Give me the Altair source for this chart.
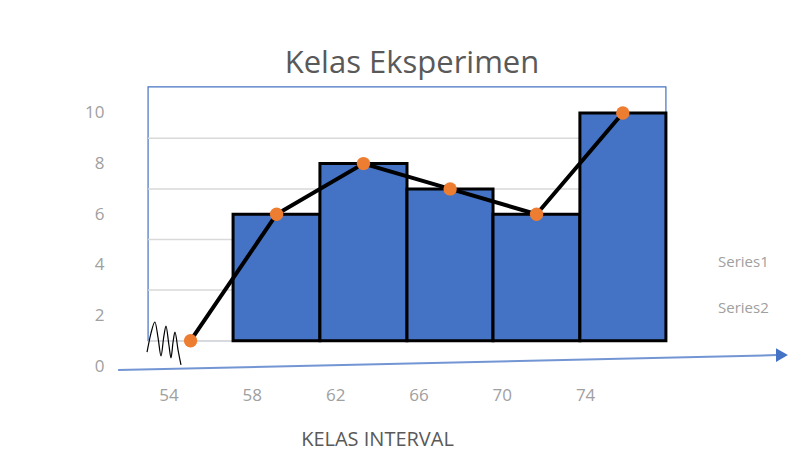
import altair as alt
import pandas as pd

# ---- data ----
series_names = ["Series1", "Series2"]
x_tick_labels = [54, 58, 62, 66, 70, 74]
y_tick_labels = [0, 2, 4, 6, 8, 10]
bar_start = [57.10, 61.27, 65.45, 69.58, 73.75]
bar_end = [61.27, 65.45, 69.58, 73.75, 77.88]
bar_values = [6, 8, 7, 6, 10]
bar_base = [1, 1, 1, 1, 1]
line_x = [55.06, 59.19, 63.36, 67.52, 71.67, 75.81]
line_values = [1, 6, 8, 7, 6, 10]
grid_values = [1, 3, 5, 7, 9]
frame_x = [53.02, 77.88]
frame_y = [1, 11.03]
arrow_x = [51.58, 83.2]
arrow_y = [-0.16, 0.43]
arrow_head = [83.45, 0.43]
squiggle_x = [52.97, 53.16, 53.35, 53.50, 53.64, 53.78, 53.88, 54.02, 54.12, 54.22, 54.31, 54.46, 54.60]
squiggle_y = [0.55, 1.30, 1.74, 1.11, 0.40, 1.19, 1.58, 0.83, 0.32, 0.95, 1.34, 0.63, 0.04]

BLUE = "#4472c4"
ORANGE = "#ed7d31"
FONT = "Open Sans"

X_DOMAIN = [51.576, 83.837]
Y_DOMAIN = [0, 11.067]

bars = pd.DataFrame({"x": bar_start, "x2": bar_end, "y": bar_values, "y2": bar_base,
                     "series": series_names[0]})
pts = pd.DataFrame({"x": line_x, "y": line_values, "series": series_names[1]})
grid = pd.DataFrame({"x": [frame_x[0]] * len(grid_values), "x2": [frame_x[1]] * len(grid_values),
                     "y": grid_values})
frame = pd.DataFrame({"x": [frame_x[0]], "x2": [frame_x[1]], "y": [frame_y[0]], "y2": [frame_y[1]]})
arrow = pd.DataFrame({"x": [arrow_x[0]], "x2": [arrow_x[1]], "y": [arrow_y[0]], "y2": [arrow_y[1]]})
head = pd.DataFrame({"x": [arrow_head[0]], "y": [arrow_head[1]]})
squig = pd.DataFrame({"x": squiggle_x, "y": squiggle_y, "o": list(range(len(squiggle_x)))})

xscale = alt.Scale(domain=X_DOMAIN, nice=False, zero=False)
yscale = alt.Scale(domain=Y_DOMAIN, nice=False, zero=False)

x_axis = alt.Axis(values=x_tick_labels, grid=False, domain=False, ticks=False, tickSize=0,
                  labelPadding=21, labelFont=FONT, labelFontSize=17, labelColor="#a0a0a0",
                  title="KELAS INTERVAL", titleFont=FONT, titleFontSize=20, titleFontWeight="normal",
                  titleColor="#595959", titleX=259, titleY=79, titleAlign="center",
                  titleBaseline="alphabetic", titleAnchor="start")
y_axis = alt.Axis(values=y_tick_labels, grid=False, domain=False, ticks=False, tickSize=0,
                  labelPadding=14, labelFont=FONT, labelFontSize=17, labelColor="#a0a0a0",
                  title=None)

frame_layer = alt.Chart(frame).mark_rect(fill=None, stroke=BLUE, strokeWidth=1.2).encode(
    x=alt.X("x:Q", scale=xscale, axis=x_axis),
    x2="x2:Q",
    y=alt.Y("y:Q", scale=yscale, axis=y_axis),
    y2="y2:Q",
)

grid_layer = alt.Chart(grid).mark_rule(color="#d9d9d9", strokeWidth=1.5).encode(
    x="x:Q", x2="x2:Q", y="y:Q"
)

color_scale = alt.Scale(domain=series_names, range=[BLUE, ORANGE])
legend = alt.Legend(orient="none", legendX=585, legendY=168, title=None, symbolSize=0,
                    symbolOpacity=0, symbolStrokeWidth=0, labelOffset=0, labelFont=FONT,
                    labelFontSize=15, labelColor="#a0a0a0", rowPadding=30)

bar_layer = alt.Chart(bars).mark_bar(stroke="black", strokeWidth=3, opacity=1).encode(
    x="x:Q", x2="x2:Q", y="y:Q", y2="y2:Q",
    color=alt.Color("series:N", scale=color_scale, legend=legend),
)

arrow_layer = alt.Chart(arrow).mark_rule(color=BLUE, strokeWidth=2, opacity=0.75).encode(
    x="x:Q", x2="x2:Q", y="y:Q", y2="y2:Q"
)
head_layer = alt.Chart(head).mark_point(shape="triangle-right", filled=True, fill=BLUE,
                                        size=190, opacity=1).encode(x="x:Q", y="y:Q")

squig_layer = alt.Chart(squig).mark_line(color="black", strokeWidth=1.2, interpolate="monotone").encode(
    x="x:Q", y="y:Q", order="o:Q"
)

line_layer = alt.Chart(pts).mark_line(color="black", strokeWidth=4).encode(x="x:Q", y="y:Q")
point_layer = alt.Chart(pts).mark_circle(size=180, opacity=1).encode(
    x="x:Q", y="y:Q",
    color=alt.Color("series:N", scale=color_scale, legend=legend),
)

chart = alt.layer(
    frame_layer, grid_layer, bar_layer, arrow_layer, head_layer, squig_layer, line_layer, point_layer
).properties(
    width=672,
    height=280,
    title=alt.TitleParams("Kelas Eksperimen", font=FONT, fontSize=31, color="#595959",
                          fontWeight="normal", anchor="middle", dx=-42, dy=30, offset=12,
                          baseline="alphabetic"),
    autosize=alt.AutoSizeParams(type="none"),
    padding={"left": 110, "top": 78, "right": 3, "bottom": 95},
    background="white",
).configure_view(stroke=None)

chart.save("out.html", embed_options={"renderer": "svg", "actions": False})
